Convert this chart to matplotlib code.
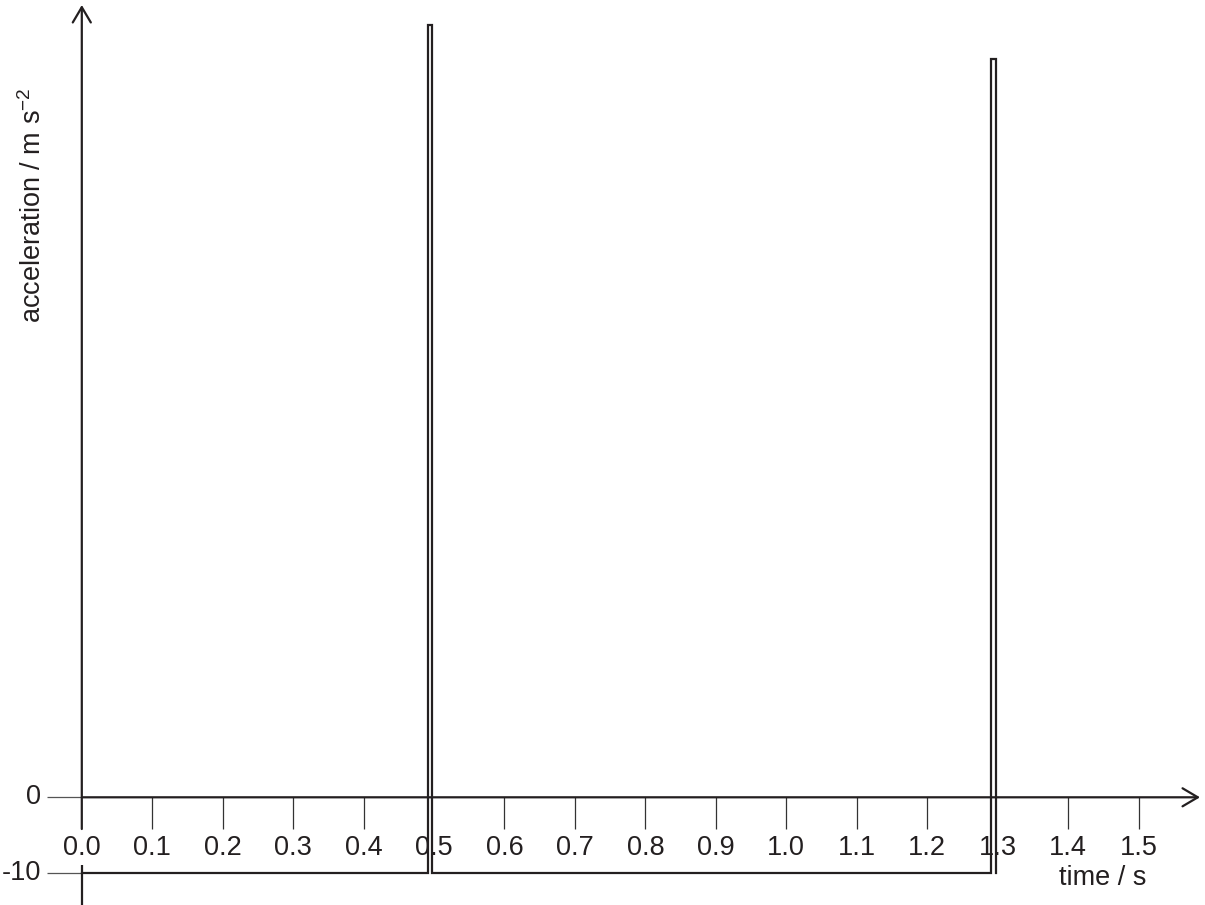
import matplotlib
matplotlib.use("Agg")
import matplotlib.pyplot as plt

plt.rcParams['font.family'] = ['Liberation Sans', 'DejaVu Sans']
plt.rcParams['mathtext.fontset'] = 'custom'
plt.rcParams['mathtext.rm'] = 'Liberation Sans'
plt.rcParams['mathtext.it'] = 'Liberation Sans'
plt.rcParams['mathtext.default'] = 'regular'

# ---- data ----
time_s = [0.0, 0.491, 0.491, 0.497, 0.497, 1.290, 1.290, 1.297, 1.297]
accel = [-10, -10, 102.5, 102.5, -10, -10, 98, 98, -10]

x_ticks = [0.0, 0.1, 0.2, 0.3, 0.4, 0.5, 0.6, 0.7, 0.8, 0.9, 1.0, 1.1, 1.2, 1.3, 1.4, 1.5]
x_tick_labels = ["0.0", "0.1", "0.2", "0.3", "0.4", "0.5", "0.6", "0.7", "0.8",
                 "0.9", "1.0", "1.1", "1.2", "1.3", "1.4", "1.5"]
x_tick_marks = [0.1, 0.2, 0.3, 0.4, 0.6, 0.7, 0.8, 0.9, 1.0, 1.1, 1.2, 1.4, 1.5]
y_ticks = [0, -10]
y_tick_labels = ["0", "-10"]

W, H = 1205, 905
fig = plt.figure(figsize=(W / 100, H / 100), dpi=100)
ax = fig.add_axes([0, 0, 1, 1])
ax.set_axis_off()

# pixel mapping
px0, pxs = 81.8, 704.5     # pixel of t=0, pixels per second
py0, pys = 797.3, 7.53     # pixel (from top) of a=0, pixels per unit
ax.set_xlim(-px0 / pxs, (W - px0) / pxs)
ax.set_ylim(-(H - py0) / pys, py0 / pys)

def tx(px):
    return (px - px0) / pxs

def ay(py):
    return (py0 - py) / pys

fs = 19.5
lw_axis = 1.6
col = '#231f20'

# x ticks (downwards from axis)
ax.vlines(x_tick_marks, ay(829), 0, color='#333333', lw=0.9, zorder=1)
for xt, lab in zip(x_ticks, x_tick_labels):
    ax.text(xt, ay(848), lab, ha='center', va='center', fontsize=fs, color=col)

# y ticks (leftwards from axis)
ax.hlines(y_ticks, tx(47), 0, color='#555555', lw=0.9, zorder=1)
for yt, lab in zip(y_ticks, y_tick_labels):
    ax.text(tx(41.5), yt, lab, ha='right', va='center', fontsize=fs, color=col)

# x axis with open arrow head
ax.annotate('', xy=(tx(1200), 0), xytext=(0, 0),
            arrowprops=dict(arrowstyle='->,head_length=1.1,head_width=0.65',
                            lw=lw_axis, color=col, shrinkA=0, shrinkB=0,
                            mutation_scale=10), zorder=3)
# y axis (broken where the 0.0 label sits)
ax.annotate('', xy=(0, ay(5)), xytext=(0, ay(829)),
            arrowprops=dict(arrowstyle='->,head_length=1.1,head_width=0.65',
                            lw=lw_axis, color=col, shrinkA=0, shrinkB=0,
                            mutation_scale=10), zorder=3)
ax.plot([0, 0], [ay(865), ay(905)], color=col, lw=lw_axis, solid_capstyle='butt', zorder=3)

# data line
ax.plot(time_s, accel, color=col, lw=1.6, solid_joinstyle='miter', zorder=4)

# axis labels
fig.text(33 / W, 1 - 205 / H, 'acceleration / m s$^{-2}$', rotation=90,
         ha='center', va='center', fontsize=fs, color=col)
fig.text(1103 / W, 1 - 878 / H, 'time / s', ha='center', va='center',
         fontsize=fs, color=col)

fig.savefig('out.png', dpi=100, facecolor='white')
